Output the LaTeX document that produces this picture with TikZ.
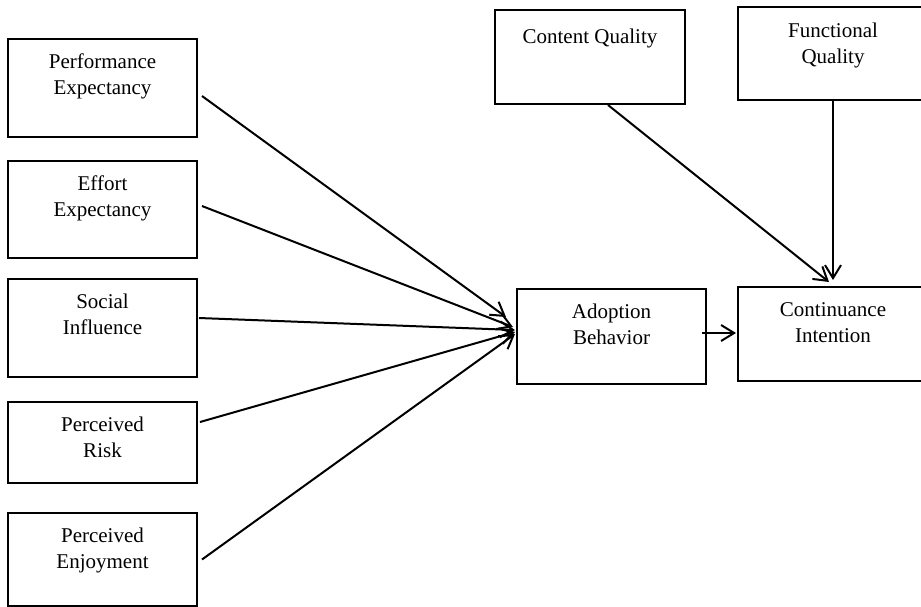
\documentclass[tikz,border=0pt]{standalone}
\usepackage{fontspec}
\setmainfont{Liberation Serif}
\usetikzlibrary{arrows.meta}

\begin{document}
\begin{tikzpicture}[x = 0.5pt, y = -0.5pt, factor/.style={rectangle, draw, line width=1pt, anchor=north west, align=center, inner sep=0pt, minimum width=94.5pt, text height=27.5pt, font=\fontsize{10.5pt}{13pt}\selectfont}, path/.style={line width=1pt, -{Straight Barb[length=6.5pt, width=8pt]}}]

        \useasboundingbox (0, 0) rectangle (921, 606);

        \node[factor, text depth=21.5pt] at (7, 38) (pe) {Performance\\Expectancy};
        \node[factor, text depth=21pt] at (7, 160) (ee) {Effort\\Expectancy};
        \node[factor, text depth=21.5pt] at (7, 278) (si) {Social\\Influence};
        \node[factor, text depth=13pt] at (7, 401) (pr) {Perceived\\Risk};
        \node[factor, text depth=19pt] at (7, 512) (pen) {Perceived\\Enjoyment};

        \node[factor, minimum width=95pt, text height=16.5pt, text depth=30.5pt] at (494, 9) (cq) {Content Quality};
        \node[factor, minimum width=95pt, text height=28pt, text depth=18.5pt] at (737, 6) (fq) {Functional\\Quality};

        \node[factor, text depth=20pt] at (516, 288) (ab) {Adoption\\Behavior};
        \node[factor, minimum width=95pt, text depth=19.5pt] at (737, 286) (ci) {Continuance\\Intention};

        \draw[path] ([xshift=2pt, yshift=-4pt]pe.east) -- ([xshift=-5pt, yshift=9.75pt]ab.west);
        \draw[path] ([xshift=2pt, yshift=1.75pt]ee.east) -- ([xshift=-1.5pt, yshift=4.75pt]ab.west);
        \draw[path] ([xshift=0.5pt, yshift=5pt]si.east) -- ([xshift=-0.5pt, yshift=3.25pt]ab.west);
        \draw[path] ([xshift=1pt, yshift=10.25pt]pr.east) -- ([xshift=-0.5pt, yshift=2.25pt]ab.west);
        \draw[path] ([xshift=2pt]pen.east) -- ([xshift=-0.5pt, yshift=1.25pt]ab.west);

        \draw[path] ([xshift=9pt]cq.south) -- ([xshift=-2pt, yshift=2pt]ci.north);
        \draw[path] (fq.south) -- ([yshift=3pt]ci.north);

        \draw[path] ([xshift=-2.5pt, yshift=1.75pt]ab.east) -- ([xshift=-0.5pt, yshift=0.5pt]ci.west);
        \end{tikzpicture}
\end{document}
